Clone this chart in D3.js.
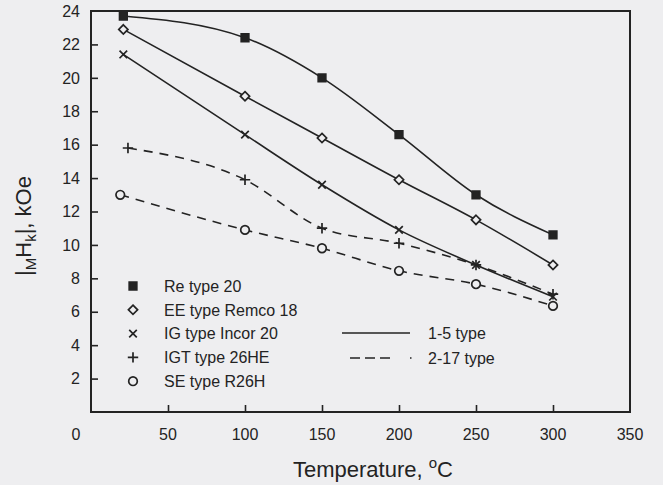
<!DOCTYPE html>
<html>
<head>
<meta charset="utf-8">
<script src="https://cdn.jsdelivr.net/npm/d3@7"></script>
<style>
  html, body { margin: 0; padding: 0; background: #eeeef0; }
  svg { display: block; font-family: "Liberation Sans", Arial, sans-serif; }
</style>
</head>
<body>
<script>
// temperatures (degC) and |MHk| values (kOe)
var reTemp  = [21, 100, 150, 200, 250, 300];
var reVal   = [23.7, 22.4, 20.0, 16.6, 13.0, 10.6];
var eeTemp  = [21, 100, 150, 200, 250, 300];
var eeVal   = [22.9, 18.9, 16.4, 13.9, 11.5, 8.8];
var igTemp  = [21, 100, 150, 200, 250, 300];
var igVal   = [21.4, 16.6, 13.6, 10.9, 8.8, 6.9];
var igtTemp = [24, 100, 150, 200, 250, 300];
var igtVal  = [15.8, 13.9, 11.0, 10.1, 8.8, 7.05];
var seTemp  = [19, 100, 150, 200, 250, 300];
var seVal   = [13.0, 10.9, 9.8, 8.45, 7.65, 6.35];

var seriesNames = ["Re type 20", "EE type Remco 18", "IG type Incor 20", "IGT type 26HE", "SE type R26H"];
var lineTypes = ["1-5 type", "2-17 type"];
var xTicks = [50, 100, 150, 200, 250, 300, 350];
var yTicks = [2, 4, 6, 8, 10, 12, 14, 16, 18, 20, 22, 24];

var W = 663, H = 485, ink = "#232323", bg = "#eeeef0";
var pLeft = 91, pRight = 630, pTop = 11, pBottom = 412;

var x = d3.scaleLinear().domain([0, 350]).range([pLeft, pRight]);
var y = d3.scaleLinear().domain([0, 24]).range([pBottom, pTop]);

// marker shapes
var mkSquare = { draw: function(c, s) { var h = 3.8; c.rect(-h, -h, 2 * h, 2 * h); } };
var mkDiamond = { draw: function(c, s) { var h = 4.6; c.moveTo(0, -h); c.lineTo(h, 0); c.lineTo(0, h); c.lineTo(-h, 0); c.closePath(); } };
var mkX = { draw: function(c, s) { var h = 3.8; c.moveTo(-h, -h); c.lineTo(h, h); c.moveTo(h, -h); c.lineTo(-h, h); } };
var mkPlus = { draw: function(c, s) { var h = 5.2; c.moveTo(-h, 0); c.lineTo(h, 0); c.moveTo(0, -h); c.lineTo(0, h); } };
var mkCircle = { draw: function(c, s) { c.moveTo(4.3, 0); c.arc(0, 0, 4.3, 0, 2 * Math.PI); } };

var series = [
  { name: seriesNames[0], t: reTemp,  v: reVal,  mk: mkSquare,  filled: true,  dash: null },
  { name: seriesNames[1], t: eeTemp,  v: eeVal,  mk: mkDiamond, filled: false, dash: null },
  { name: seriesNames[2], t: igTemp,  v: igVal,  mk: mkX,       filled: false, dash: null },
  { name: seriesNames[3], t: igtTemp, v: igtVal, mk: mkPlus,    filled: false, dash: "9,7" },
  { name: seriesNames[4], t: seTemp,  v: seVal,  mk: mkCircle,  filled: false, dash: "9,7" }
];

function markFill(s) {
  if (s.filled) return ink;
  return (s.mk === mkX || s.mk === mkPlus) ? "none" : bg;
}

var svg = d3.select("body").append("svg").attr("width", W).attr("height", H);
svg.append("rect").attr("width", W).attr("height", H).attr("fill", bg);

// ticks (inward)
var xAxis = d3.axisTop(x).tickValues(xTicks.slice(0, -1)).tickSize(7).tickFormat("");
svg.append("g").attr("transform", "translate(0," + pBottom + ")").call(xAxis)
  .call(function(g) { g.select(".domain").remove(); g.selectAll("line").attr("stroke", ink).attr("stroke-width", 1.6); });
var yAxis = d3.axisRight(y).tickValues(yTicks.slice(0, -1)).tickSize(7).tickFormat("");
svg.append("g").attr("transform", "translate(" + pLeft + ",0)").call(yAxis)
  .call(function(g) { g.select(".domain").remove(); g.selectAll("line").attr("stroke", ink).attr("stroke-width", 1.6); });

// frame
svg.append("rect").attr("x", pLeft).attr("y", pTop).attr("width", pRight - pLeft).attr("height", pBottom - pTop)
  .attr("fill", "none").attr("stroke", ink).attr("stroke-width", 2);

// tick labels
svg.append("g").selectAll("text").data(xTicks).join("text")
  .attr("x", function(d) { return x(d); }).attr("y", 440)
  .attr("text-anchor", "middle").attr("font-size", 16).attr("fill", ink).text(function(d) { return d; });
svg.append("g").selectAll("text").data(yTicks).join("text")
  .attr("x", pLeft - 11).attr("y", function(d) { return y(d) + 5.7; })
  .attr("text-anchor", "end").attr("font-size", 16).attr("fill", ink).text(function(d) { return d; });
svg.append("text").attr("x", 76).attr("y", 440).attr("text-anchor", "middle")
  .attr("font-size", 16).attr("fill", ink).text("0");

// axis titles
var xt = svg.append("text").attr("x", 373).attr("y", 477).attr("text-anchor", "middle")
  .attr("font-size", 22).attr("fill", ink);
xt.append("tspan").text("Temperature, ");
xt.append("tspan").attr("dy", -9).attr("font-size", 15).text("o");
xt.append("tspan").attr("dy", 9).text("C");

var yt = svg.append("text").attr("transform", "translate(31,226) rotate(-90)").attr("text-anchor", "middle")
  .attr("font-size", 22).attr("fill", ink);
yt.append("tspan").text("|");
yt.append("tspan").attr("dy", 5).attr("font-size", 15).text("M");
yt.append("tspan").attr("dy", -5).text("H");
yt.append("tspan").attr("dy", 5).attr("font-size", 15).text("k");
yt.append("tspan").attr("dy", -5).text("|, kOe");

// curves
var line = d3.line().curve(d3.curveMonotoneX)
  .x(function(d) { return x(d[0]); }).y(function(d) { return y(d[1]); });

series.forEach(function(s) {
  var pts = s.t.map(function(t, i) { return [t, s.v[i]]; });
  svg.append("path").datum(pts).attr("d", line).attr("fill", "none")
    .attr("stroke", ink).attr("stroke-width", 1.6).attr("stroke-dasharray", s.dash);
});

series.forEach(function(s) {
  var pts = s.t.map(function(t, i) { return [t, s.v[i]]; });
  svg.append("g").selectAll("path").data(pts).join("path")
    .attr("transform", function(d) { return "translate(" + x(d[0]) + "," + y(d[1]) + ")"; })
    .attr("d", d3.symbol().type(s.mk)())
    .attr("fill", markFill(s))
    .attr("stroke", ink).attr("stroke-width", 1.7);
});

// legend: markers
var lg = svg.append("g");
series.forEach(function(s, i) {
  var yy = 286 + i * 23.8;
  lg.append("path").attr("transform", "translate(133," + yy + ")")
    .attr("d", d3.symbol().type(s.mk)())
    .attr("fill", markFill(s))
    .attr("stroke", ink).attr("stroke-width", 1.7);
  lg.append("text").attr("x", 164).attr("y", yy + 5.8).attr("font-size", 16).attr("fill", ink).text(s.name);
});

// legend: line styles
lg.append("line").attr("x1", 342).attr("x2", 410).attr("y1", 333).attr("y2", 333)
  .attr("stroke", ink).attr("stroke-width", 1.6);
lg.append("line").attr("x1", 350).attr("x2", 413).attr("y1", 358).attr("y2", 358)
  .attr("stroke", ink).attr("stroke-width", 1.6).attr("stroke-dasharray", "10,5,10,5,10,20,1.5,20");
lg.selectAll("text.lt").data(lineTypes).join("text").attr("class", "lt")
  .attr("x", 428).attr("y", function(d, i) { return 333 + i * 25 + 5.8; })
  .attr("font-size", 16).attr("fill", ink).text(function(d) { return d; });
</script>
</body>
</html>
